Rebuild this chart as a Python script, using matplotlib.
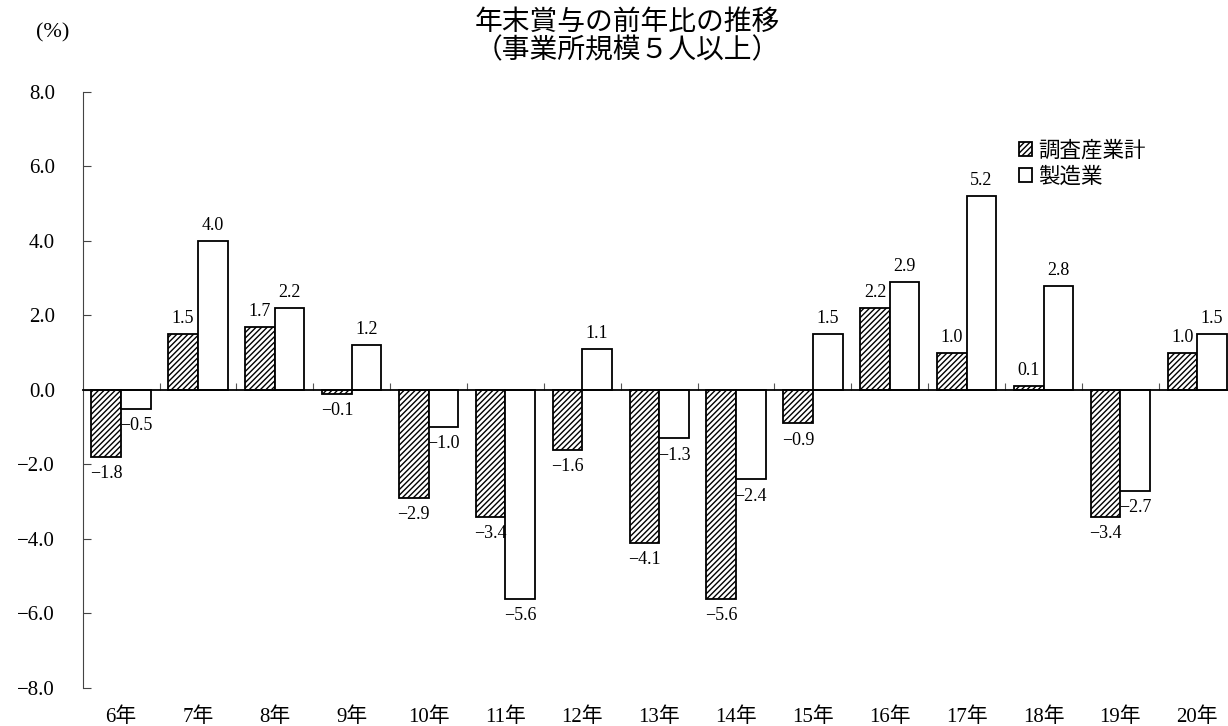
import numpy as np
import matplotlib.pyplot as plt

years = ['6年', '7年', '8年', '9年', '10年', '11年', '12年', '13年',
         '14年', '15年', '16年', '17年', '18年', '19年', '20年']
total = [-1.8, 1.5, 1.7, -0.1, -2.9, -3.4, -1.6, -4.1, -5.6, -0.9, 2.2, 1.0, 0.1, -3.4, 1.0]
manuf = [-0.5, 4.0, 2.2, 1.2, -1.0, -5.6, 1.1, -1.3, -2.4, 1.5, 2.9, 5.2, 2.8, -2.7, 1.5]
yticks = [-8, -6, -4, -2, 0, 2, 4, 6, 8]

plt.rcParams['font.family'] = ['Liberation Serif', 'Noto Sans CJK JP']
plt.rcParams['hatch.linewidth'] = 1.0


def fmt(v):
    return f'{v:.1f}'.replace('-', '\u2212')


fig = plt.figure(figsize=(12.28, 7.26), dpi=100)
ax = fig.add_axes([0.0673, 0.0523, 0.939, 0.8213])

x = np.arange(len(years))
w = 0.385
b1 = ax.bar(x - w / 2, total, w, color='white', edgecolor='black',
            hatch='//////', linewidth=1.3, label='調査産業計')
b2 = ax.bar(x + w / 2, manuf, w, color='white', edgecolor='black',
            linewidth=1.3, label='製造業')

# value labels above / below each bar
for bars, vals in ((b1, total), (b2, manuf)):
    for bar, v in zip(bars, vals):
        cx = bar.get_x() + bar.get_width() / 2
        if v >= 0:
            ax.annotate(fmt(v), (cx, v), xytext=(0, 5), textcoords='offset points',
                        ha='center', va='bottom', fontsize=13)
        else:
            ax.annotate(fmt(v), (cx, v), xytext=(0, -6), textcoords='offset points',
                        ha='center', va='top', fontsize=13)

ax.set_xlim(-0.5, 14.5)
ax.set_ylim(-8, 8)
ax.spines['top'].set_visible(False)
ax.spines['right'].set_visible(False)
ax.spines['bottom'].set_position(('data', 0))
ax.spines['bottom'].set_linewidth(1.3)
ax.spines['left'].set_color('#444444')

ax.set_xticks(x[:-1] + 0.5)
ax.set_xticklabels([])
ax.tick_params(axis='x', direction='in', length=5, color='#555555')

ax.set_yticks(yticks)
ax.set_yticklabels([fmt(v) for v in yticks], fontsize=15)
ax.tick_params(axis='y', direction='in', length=5.5, pad=20, color='#444444')

for i, yr in enumerate(years):
    ax.annotate(yr, (i, -8), xytext=(0, -21), textcoords='offset points',
                ha='center', va='center', fontsize=15)

ax.legend(loc='upper left', bbox_to_anchor=(1019 / 1228, 1 - 141 / 726),
          bbox_transform=fig.transFigure, frameon=False, fontsize=15.5,
          handlelength=0.6, handleheight=0.6, handletextpad=0.3,
          labelspacing=0.25, borderpad=0, borderaxespad=0)

fig.text(627 / 1228, 1 - 23 / 726, '年末賞与の前年比の推移', ha='center', va='center', fontsize=20)
fig.text(627 / 1228, 1 - 51 / 726, '（事業所規模５人以上）', ha='center', va='center', fontsize=20)
fig.text(53 / 1228, 1 - 33 / 726, '(%)', ha='center', va='center', fontsize=16)

fig.savefig('out.png', dpi=100)
